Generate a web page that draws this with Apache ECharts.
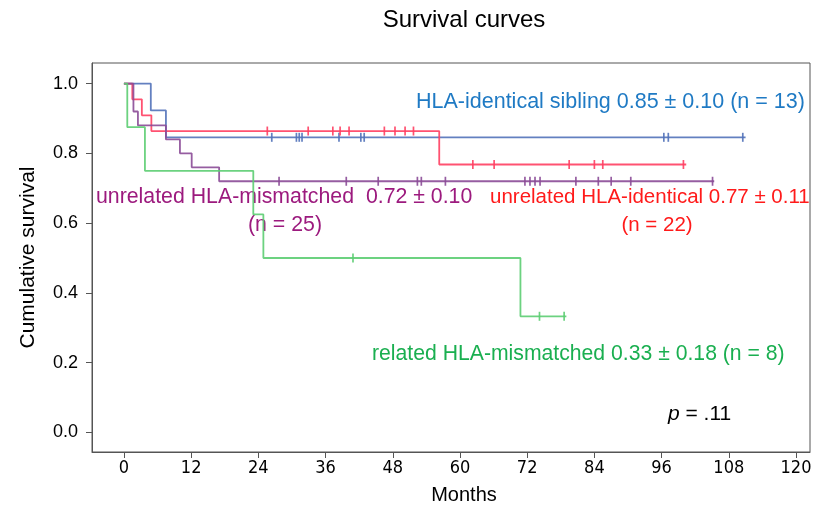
<!DOCTYPE html>
<html>
<head>
<meta charset="utf-8">
<script src="https://cdn.jsdelivr.net/npm/echarts@6/dist/echarts.min.js"></script>
<style>html,body{margin:0;padding:0;background:#fff}#c{width:825px;height:507px}</style>
</head>
<body>
<div id="c"></div>
<script>
// ---- data (months, cumulative survival) ----
const xTicks = [0, 12, 24, 36, 48, 60, 72, 84, 96, 108, 120];
const yTicks = [0, 0.2, 0.4, 0.6, 0.8, 1.0];

const sibTimes = [0, 4.8, 7.5, 111];
const sibSurv = [1, 0.923, 0.846, 0.846];
const sibCensor = [26.4, 30.8, 31.3, 31.8, 38.4, 42.3, 42.9, 96.4, 97.2, 110.5];

const uidTimes = [0, 1.5, 3.2, 4.9, 56.3, 100.4];
const uidSurv = [1, 0.955, 0.909, 0.864, 0.768, 0.768];
const uidCensor = [25.6, 32.9, 37.3, 38.6, 40.2, 46.5, 48.4, 50.2, 51.7, 62.3, 66.1, 79.5, 84.0, 85.5, 99.9];

const umTimes = [0, 1.7, 2.5, 7.5, 10, 12.1, 17.0, 105.4];
const umSurv = [1, 0.92, 0.88, 0.84, 0.80, 0.76, 0.72, 0.72];
const umCensor = [27.7, 39.7, 45.4, 52.4, 53.1, 57.4, 71.6, 72.5, 73.4, 74.3, 80.7, 84.7, 87.0, 90.5, 105.1];

const rmTimes = [0, 0.6, 3.75, 23.1, 24.9, 70.8, 79];
const rmSurv = [1, 0.875, 0.75, 0.625, 0.5, 0.333, 0.333];
const rmCensor = [40.9, 74.2, 78.6];

// ---- helpers ----
function pairs(t, s) { return t.map((v, i) => [v, s[i]]); }
function survAt(t, s, x) { let v = s[0]; for (let i = 0; i < t.length; i++) { if (t[i] <= x) v = s[i]; } return v; }
function censorPts(t, s, c) { return c.map(x => [x, survAt(t, s, x)]); }

const groups = [
  { t: sibTimes, s: sibSurv, c: sibCensor, color: '#5272b9' },
  { t: uidTimes, s: uidSurv, c: uidCensor, color: '#ff3f62' },
  { t: umTimes, s: umSurv, c: umCensor, color: '#8b4b97' },
  { t: rmTimes, s: rmSurv, c: rmCensor, color: '#5ccd72' }
];

const series = [];
groups.forEach(g => {
  series.push({
    type: 'line', step: 'end', data: pairs(g.t, g.s), showSymbol: false, symbol: 'none',
    lineStyle: { color: g.color, width: 1.8, opacity: 0.9 }, silent: true, animation: false, z: 3
  });
  series.push({
    type: 'scatter', data: censorPts(g.t, g.s, g.c), symbol: 'rect', symbolSize: [1.7, 9],
    itemStyle: { color: g.color, opacity: 0.9 }, silent: true, animation: false, z: 4
  });
});

const font = '"Liberation Sans", Arial, Helvetica, sans-serif';
const chart = echarts.init(document.getElementById('c'), null, { renderer: 'canvas' });
chart.setOption({
  animation: false,
  backgroundColor: '#fff',
  grid: { left: 92, top: 63, right: 15, bottom: 55, show: true, borderColor: '#555', borderWidth: 1,
          containLabel: false, outerBoundsMode: 'none' },
  xAxis: {
    type: 'value', min: -5.7, max: 122.5,
    name: 'Months', nameLocation: 'middle', nameGap: 33,
    nameTextStyle: { fontFamily: font, fontSize: 20, color: '#000', padding: [0, 0, 0, 26] },
    axisLine: { show: true, onZero: false, lineStyle: { color: '#555', width: 1 } },
    axisTick: { show: true, length: 6, lineStyle: { color: '#555' }, customValues: xTicks },
    axisLabel: { customValues: xTicks, fontFamily: '"DejaVu Sans Condensed", ' + font, fontSize: 18, color: '#000', margin: 7 },
    splitLine: { show: false }
  },
  yAxis: {
    type: 'value', min: -0.056, max: 1.059,
    name: 'Cumulative survival', nameLocation: 'middle', nameGap: 53, nameRotate: 90,
    nameTextStyle: { fontFamily: font, fontSize: 21, color: '#000' },
    axisLine: { show: true, onZero: false, lineStyle: { color: '#555', width: 1 } },
    axisTick: { show: true, length: 6, lineStyle: { color: '#555' }, customValues: yTicks },
    axisLabel: { customValues: yTicks, fontFamily: font, fontSize: 18, color: '#000', margin: 14, formatter: v => v.toFixed(1) },
    splitLine: { show: false }
  },
  series: series,
  graphic: [
    { type: 'text', style: { x: 464, y: 20, text: 'Survival curves', fill: '#000', font: '24px ' + font, textAlign: 'center', textVerticalAlign: 'middle' } },
    { type: 'text', style: { x: 416, y: 102, text: 'HLA-identical sibling 0.85 ± 0.10 (n = 13)', fill: '#1f7ac4', font: '21.5px ' + font, textAlign: 'left', textVerticalAlign: 'middle' } },
    { type: 'text', style: { x: 96, y: 197, text: 'unrelated HLA-mismatched  0.72 ± 0.10', fill: '#9c1a7e', font: '21.3px ' + font, textAlign: 'left', textVerticalAlign: 'middle' } },
    { type: 'text', style: { x: 285, y: 225, text: '(n = 25)', fill: '#9c1a7e', font: '21.3px ' + font, textAlign: 'center', textVerticalAlign: 'middle' } },
    { type: 'text', style: { x: 490, y: 197, text: 'unrelated HLA-identical 0.77 ± 0.11', fill: '#ff1a1a', font: '20.5px ' + font, textAlign: 'left', textVerticalAlign: 'middle' } },
    { type: 'text', style: { x: 657, y: 225, text: '(n = 22)', fill: '#ff1a1a', font: '20.5px ' + font, textAlign: 'center', textVerticalAlign: 'middle' } },
    { type: 'text', style: { x: 372, y: 354, text: 'related HLA-mismatched 0.33 ± 0.18 (n = 8)', fill: '#1aaf50', font: '21.2px ' + font, textAlign: 'left', textVerticalAlign: 'middle' } },
    { type: 'text', style: { x: 668, y: 414, text: '{i|p} = .11', fill: '#000', font: '21px ' + font, textAlign: 'left', textVerticalAlign: 'middle',
      rich: { i: { fontStyle: 'italic', fontFamily: font, fontSize: 21, fill: '#000' } } } }
  ]
});
</script>
</body>
</html>
